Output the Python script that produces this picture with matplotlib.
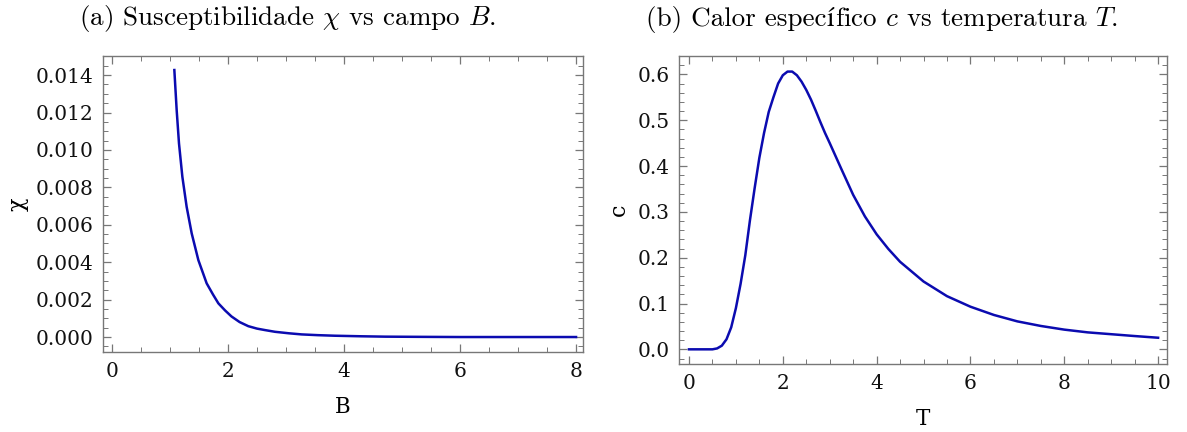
import matplotlib
matplotlib.use("Agg")
import matplotlib.pyplot as plt
from matplotlib.ticker import MultipleLocator, FormatStrFormatter
from matplotlib.offsetbox import TextArea, HPacker, AnchoredOffsetbox

# susceptibility chi vs field B
B_vals = [1.075, 1.115, 1.155, 1.213, 1.287, 1.374, 1.489, 1.632, 1.74, 1.834, 1.95,
          2.06, 2.2, 2.35, 2.5, 2.64, 2.81, 3.05, 3.27, 3.55, 3.84, 4.3, 4.71, 5.3,
          6.0, 7.0, 8.0]
chi_vals = [0.01427, 0.01213, 0.01035, 0.00857, 0.00696, 0.00554, 0.00411, 0.00287,
            0.00228, 0.00180, 0.00142, 0.00110, 0.00080, 0.00058, 0.00045, 0.00037,
            0.00028, 0.00020, 0.00014, 0.00010, 0.00007, 0.00004, 0.00002, 0.00001,
            0.0, 0.0, 0.0]

# specific heat c vs temperature T
T_vals = [0.0, 0.3, 0.5, 0.6, 0.7, 0.8, 0.9, 1.0, 1.1, 1.2, 1.3, 1.4, 1.5, 1.6, 1.7,
          1.8, 1.9, 2.0, 2.1, 2.2, 2.3, 2.4, 2.5, 2.6, 2.7, 2.8, 2.9, 3.0, 3.25, 3.5,
          3.75, 4.0, 4.25, 4.5, 5.0, 5.5, 6.0, 6.5, 7.0, 7.5, 8.0, 8.5, 9.0, 9.5, 10.0]
c_vals = [0.0, 0.0, 0.0, 0.002, 0.008, 0.022, 0.048, 0.090, 0.143, 0.205, 0.282,
          0.352, 0.418, 0.472, 0.518, 0.550, 0.580, 0.598, 0.606, 0.606, 0.598, 0.584,
          0.566, 0.545, 0.521, 0.496, 0.472, 0.450, 0.393, 0.337, 0.290, 0.251, 0.219,
          0.191, 0.148, 0.116, 0.093, 0.075, 0.061, 0.051, 0.043, 0.037, 0.033, 0.029,
          0.0253]

LINE = "#0b0bb0"
FRAME = "#777777"
plt.rcParams["font.family"] = ["DejaVu Serif"]
plt.rcParams["mathtext.fontset"] = "cm"

fig = plt.figure(figsize=(11.87, 4.32), dpi=100)
ax1 = fig.add_axes([103 / 1187, 80 / 432, 480 / 1187, 296 / 432])
ax2 = fig.add_axes([679 / 1187, 68 / 432, 488 / 1187, 308 / 432])


def style(ax):
    for s in ax.spines.values():
        s.set_color(FRAME)
        s.set_linewidth(1.0)
    ax.tick_params(which="both", direction="in", top=True, right=True,
                   color=FRAME, labelsize=14.5, labelcolor="#111111")
    ax.tick_params(which="major", length=6, width=0.9, pad=7)
    ax.tick_params(which="minor", length=3.5, width=0.7)


ax1.plot(B_vals, chi_vals, color=LINE, lw=1.8)
ax1.set_xlim(-0.155, 8.12)
ax1.set_ylim(-0.0008, 0.01502)
ax1.xaxis.set_major_locator(MultipleLocator(2))
ax1.xaxis.set_minor_locator(MultipleLocator(0.5))
ax1.yaxis.set_major_locator(MultipleLocator(0.002))
ax1.yaxis.set_minor_locator(MultipleLocator(0.0005))
ax1.yaxis.set_major_formatter(FormatStrFormatter("%.3f"))
ax1.set_xlabel("B", fontsize=15.5, labelpad=11)
ax1.set_ylabel("χ", fontsize=16, labelpad=5)
style(ax1)

ax2.plot(T_vals, c_vals, color=LINE, lw=1.8)
ax2.set_xlim(-0.213, 10.19)
ax2.set_ylim(-0.032, 0.64)
ax2.xaxis.set_major_locator(MultipleLocator(2))
ax2.xaxis.set_minor_locator(MultipleLocator(0.5))
ax2.yaxis.set_major_locator(MultipleLocator(0.1))
ax2.yaxis.set_minor_locator(MultipleLocator(0.02))
ax2.yaxis.set_major_formatter(FormatStrFormatter("%.1f"))
ax2.set_xlabel("T", fontsize=15.5, labelpad=11)
ax2.set_ylabel("c", fontsize=16, labelpad=5)
style(ax2)


def caption(parts, xc):
    # parts: list of (text, family); packed on one baseline
    size = 19.5
    areas = [TextArea(t, textprops=dict(fontsize=size, family=f)) for t, f in parts]
    box = HPacker(children=areas, align="baseline", pad=0, sep=0)
    anchored = AnchoredOffsetbox(loc="center", child=box, frameon=False,
                                 bbox_to_anchor=(xc / 1187, 1 - 19 / 432),
                                 bbox_transform=fig.transFigure, borderpad=0, pad=0)
    fig.add_artist(anchored)


caption([(r"(a) Susceptibilidade $\chi$ vs campo $B$.", "cmr10")], 288)
caption([("(b) Calor espec", "cmr10"), ("í", "STIXGeneral"),
         (r"fico $c$ vs temperatura $T$.", "cmr10")], 882)

fig.savefig("out.png", dpi=100)
